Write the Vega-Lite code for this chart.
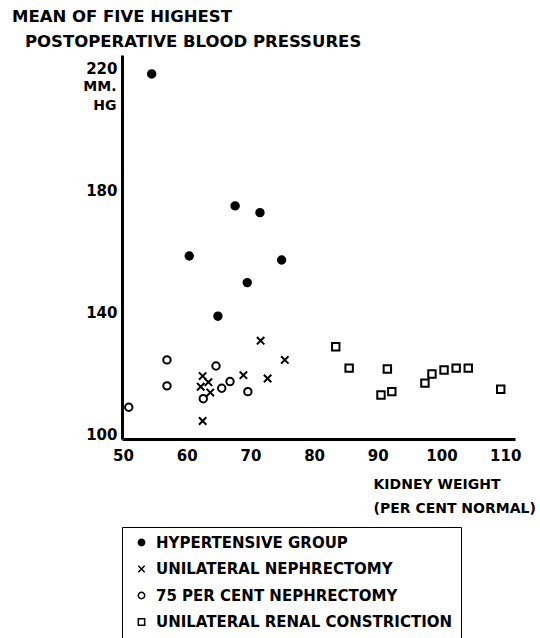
{
  "$schema": "https://vega.github.io/schema/vega-lite/v6.json",
  "width": 393,
  "height": 384,
  "autosize": {"type": "none"},
  "padding": {"left": 122, "top": 55, "right": 25, "bottom": 199},
  "background": "white",
  "config": {
    "view": {"stroke": null},
    "font": "DejaVu Sans",
    "axis": {"grid": false, "ticks": false, "domainColor": "black", "domainWidth": 3, "labelColor": "black", "labelFont": "DejaVu Sans", "labelFontWeight": "bold", "labelFontSize": 15, "titleColor": "black", "titleFont": "DejaVu Sans", "titleFontWeight": "bold", "titleFontSize": 14},
    "legend": {"labelFont": "DejaVu Sans", "labelFontWeight": "bold", "labelFontSize": 15, "labelColor": "black", "labelLimit": 0}
  },
  "title": {
    "text": ["MEAN OF FIVE HIGHEST", "\u2800POSTOPERATIVE BLOOD PRESSURES"],
    "anchor": "start",
    "frame": "group",
    "dx": -110,
    "offset": 5,
    "font": "DejaVu Sans",
    "fontWeight": "bold",
    "fontSize": 16.5,
    "lineHeight": 25,
    "color": "black"
  },
  "data": {
    "values": [
      {"g": "HYPERTENSIVE GROUP", "x": 54.5, "y": 218.1},
      {"g": "HYPERTENSIVE GROUP", "x": 67.6, "y": 174.9},
      {"g": "HYPERTENSIVE GROUP", "x": 71.5, "y": 172.7},
      {"g": "HYPERTENSIVE GROUP", "x": 60.4, "y": 158.5},
      {"g": "HYPERTENSIVE GROUP", "x": 74.9, "y": 157.2},
      {"g": "HYPERTENSIVE GROUP", "x": 69.5, "y": 149.8},
      {"g": "HYPERTENSIVE GROUP", "x": 64.9, "y": 138.8},
      {"g": "UNILATERAL NEPHRECTOMY", "x": 71.6, "y": 130.8},
      {"g": "UNILATERAL NEPHRECTOMY", "x": 75.4, "y": 124.5},
      {"g": "UNILATERAL NEPHRECTOMY", "x": 62.5, "y": 119.2},
      {"g": "UNILATERAL NEPHRECTOMY", "x": 63.4, "y": 117.2},
      {"g": "UNILATERAL NEPHRECTOMY", "x": 62.2, "y": 115.7},
      {"g": "UNILATERAL NEPHRECTOMY", "x": 63.7, "y": 113.8},
      {"g": "UNILATERAL NEPHRECTOMY", "x": 68.9, "y": 119.5},
      {"g": "UNILATERAL NEPHRECTOMY", "x": 72.7, "y": 118.4},
      {"g": "UNILATERAL NEPHRECTOMY", "x": 62.5, "y": 104.5},
      {"g": "75 PER CENT NEPHRECTOMY", "x": 50.9, "y": 109.0},
      {"g": "75 PER CENT NEPHRECTOMY", "x": 56.9, "y": 124.5},
      {"g": "75 PER CENT NEPHRECTOMY", "x": 56.9, "y": 116.0},
      {"g": "75 PER CENT NEPHRECTOMY", "x": 64.6, "y": 122.5},
      {"g": "75 PER CENT NEPHRECTOMY", "x": 62.6, "y": 111.8},
      {"g": "75 PER CENT NEPHRECTOMY", "x": 65.5, "y": 115.2},
      {"g": "75 PER CENT NEPHRECTOMY", "x": 66.8, "y": 117.4},
      {"g": "75 PER CENT NEPHRECTOMY", "x": 69.6, "y": 114.1},
      {"g": "UNILATERAL RENAL CONSTRICTION", "x": 83.4, "y": 128.8},
      {"g": "UNILATERAL RENAL CONSTRICTION", "x": 85.5, "y": 121.8},
      {"g": "UNILATERAL RENAL CONSTRICTION", "x": 91.5, "y": 121.5},
      {"g": "UNILATERAL RENAL CONSTRICTION", "x": 90.5, "y": 113.0},
      {"g": "UNILATERAL RENAL CONSTRICTION", "x": 92.2, "y": 114.1},
      {"g": "UNILATERAL RENAL CONSTRICTION", "x": 97.4, "y": 116.9},
      {"g": "UNILATERAL RENAL CONSTRICTION", "x": 98.5, "y": 119.9},
      {"g": "UNILATERAL RENAL CONSTRICTION", "x": 100.4, "y": 121.2},
      {"g": "UNILATERAL RENAL CONSTRICTION", "x": 102.3, "y": 121.8},
      {"g": "UNILATERAL RENAL CONSTRICTION", "x": 104.2, "y": 121.8},
      {"g": "UNILATERAL RENAL CONSTRICTION", "x": 109.3, "y": 114.9}
    ]
  },
  "mark": {"type": "point", "filled": false, "stroke": "black", "strokeWidth": 2, "size": 55, "opacity": 1},
  "encoding": {
    "x": {
      "field": "x", "type": "quantitative",
      "scale": {"domain": [49.84, 111.54], "nice": false, "zero": false},
      "axis": {"values": [50, 60, 70, 80, 90, 100, 110], "labelPadding": 9, "title": ["KIDNEY WEIGHT", "(PER CENT NORMAL)"], "titleAlign": "left", "titleAnchor": "start", "titleBaseline": "top", "titleX": 251, "titleY": 38, "titleLineHeight": 24}
    },
    "y": {
      "field": "y", "type": "quantitative",
      "scale": {"domain": [98.6, 224.3], "nice": false, "zero": false},
      "axis": {"values": [100, 140, 180, 220], "labelPadding": 5, "title": ["MM.", "HG"], "titleAngle": 0, "titleAlign": "right", "titleBaseline": "top", "titleX": -6, "titleY": 24, "titleLineHeight": 19, "titleFontSize": 14}
    },
    "shape": {
      "field": "g", "type": "nominal",
      "scale": {"domain": ["HYPERTENSIVE GROUP", "UNILATERAL NEPHRECTOMY", "75 PER CENT NEPHRECTOMY", "UNILATERAL RENAL CONSTRICTION"], "range": ["circle", "M-1,-1L1,1M-1,1L1,-1", "circle", "square"]},
      "legend": {"title": null, "orient": "none", "legendX": 0, "legendY": 472, "strokeColor": "black", "padding": 8, "rowPadding": 10.5, "symbolSize": 40, "labelOffset": 7, "symbolOffset": 4, "encode": {"legend": {"update": {"strokeWidth": {"value": 2}}}, "symbols": {"update": {"stroke": {"value": "black"}, "strokeWidth": {"value": 2}}}}}
    },
    "fill": {
      "field": "g", "type": "nominal",
      "scale": {"domain": ["HYPERTENSIVE GROUP", "UNILATERAL NEPHRECTOMY", "75 PER CENT NEPHRECTOMY", "UNILATERAL RENAL CONSTRICTION"], "range": ["black", "transparent", "transparent", "transparent"]},
      "legend": {"title": null, "orient": "none", "legendX": 0, "legendY": 472, "strokeColor": "black", "padding": 8, "rowPadding": 10.5, "symbolSize": 40, "labelOffset": 7, "symbolOffset": 4, "encode": {"legend": {"update": {"strokeWidth": {"value": 2}}}, "symbols": {"update": {"stroke": {"value": "black"}, "strokeWidth": {"value": 2}}}}}
    }
  }
}
